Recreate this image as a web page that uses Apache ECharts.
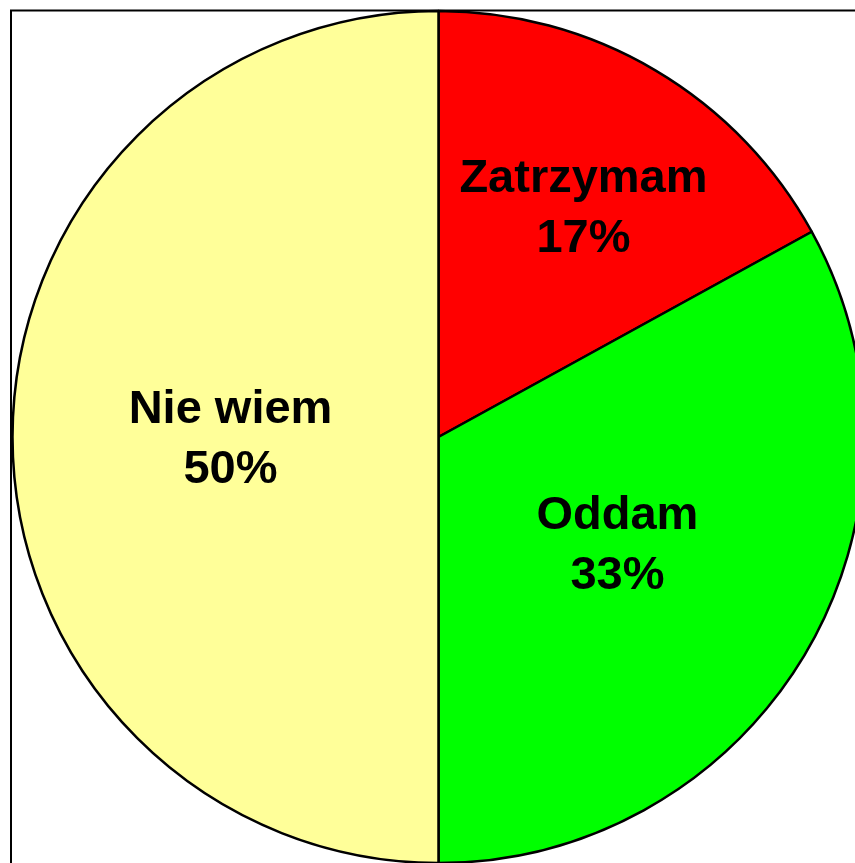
<!DOCTYPE html>
<html>
<head>
<meta charset="utf-8">
<script src="https://cdn.jsdelivr.net/npm/echarts@6/dist/echarts.min.js"></script>
<style>html,body{margin:0;padding:0;background:#fff;}#c{width:855px;height:863px;}</style>
</head>
<body>
<div id="c"></div>
<script>
const categories = ['Zatrzymam', 'Oddam', 'Nie wiem'];
const values = [17, 33, 50];
const labelTexts = ['17%', '33%', '50%'];
const colors = ['#FF0000', '#00FF00', '#FFFF99'];
const labelOffsets = [[35, -42], [-7, -1], [8, 3]];

const chart = echarts.init(document.getElementById('c'), null, {renderer: 'canvas'});
const data = categories.map((name, i) => ({
  name: name,
  value: values[i],
  itemStyle: {color: colors[i]},
  label: {offset: labelOffsets[i]}
}));
chart.setOption({
  animation: false,
  backgroundColor: '#fff',
  graphic: [{
    type: 'rect',
    shape: {x: 11, y: 10.5, width: 1000, height: 1000},
    style: {fill: 'none', stroke: '#000', lineWidth: 2},
    z: 100
  }],
  series: [{
    type: 'pie',
    center: [438.5, 437],
    radius: [0, 426],
    startAngle: 90,
    clockwise: true,
    avoidLabelOverlap: false,
    itemStyle: {borderColor: '#000', borderWidth: 2.5},
    label: {
      show: true,
      position: 'inside',
      formatter: p => p.name + '\n' + labelTexts[p.dataIndex],
      fontFamily: 'Liberation Sans, Arial, sans-serif',
      fontWeight: 'bold',
      fontSize: 47,
      lineHeight: 60,
      color: '#000'
    },
    labelLine: {show: false},
    emphasis: {disabled: true},
    data: data
  }]
});
</script>
</body>
</html>
